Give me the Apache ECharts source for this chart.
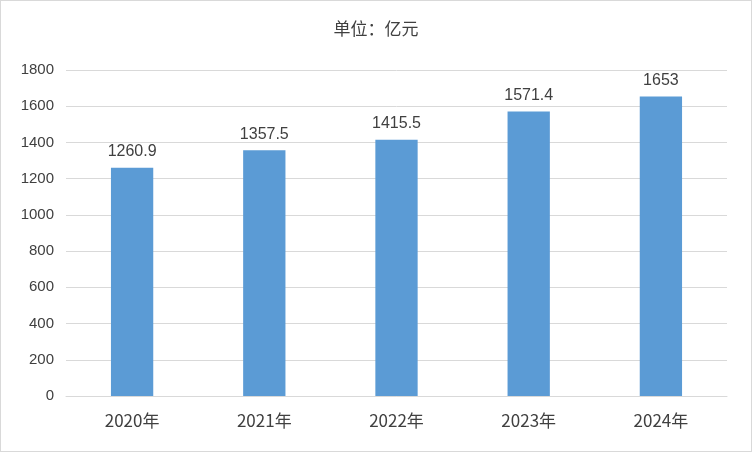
<!DOCTYPE html>
<html><head><meta charset="utf-8">
<script src="https://cdn.jsdelivr.net/npm/echarts@6/dist/echarts.min.js"></script>
<style>html,body{margin:0;padding:0;background:#fff}
#c{width:750px;height:450px;border:1px solid #d9d9d9}</style>
</head><body><div id="c"></div>
<script>
const years = ['2020年', '2021年', '2022年', '2023年', '2024年'];
const values = [1260.9, 1357.5, 1415.5, 1571.4, 1653];

const chart = echarts.init(document.getElementById('c'));
chart.setOption({
    animation: false,
    title: {text: '单位：亿元', left: 'center', top: 14,
        textStyle: {fontSize: 17, fontWeight: 'normal', color: '#404040', fontFamily: 'Noto Sans CJK SC'}},
    grid: {left: 65, right: 24, top: 69, bottom: 55},
    xAxis: {type: 'category', data: years,
        axisLine: {lineStyle: {color: '#d9d9d9'}}, axisTick: {show: false},
        axisLabel: {fontSize: 17, color: '#404040', margin: 16, fontFamily: 'Noto Sans CJK SC'}},
    yAxis: {type: 'value', min: 0, max: 1800, interval: 200,
        axisLine: {show: false}, axisTick: {show: false},
        splitLine: {lineStyle: {color: '#d9d9d9'}},
        axisLabel: {fontSize: 15, color: '#404040', margin: 12, formatter: v => String(v)}},
    series: [{type: 'bar', data: values, barWidth: '32%',
        itemStyle: {color: '#5B9BD5'},
        label: {show: true, position: 'top', fontSize: 16, color: '#404040', distance: 8}}]
});
</script></body></html>
